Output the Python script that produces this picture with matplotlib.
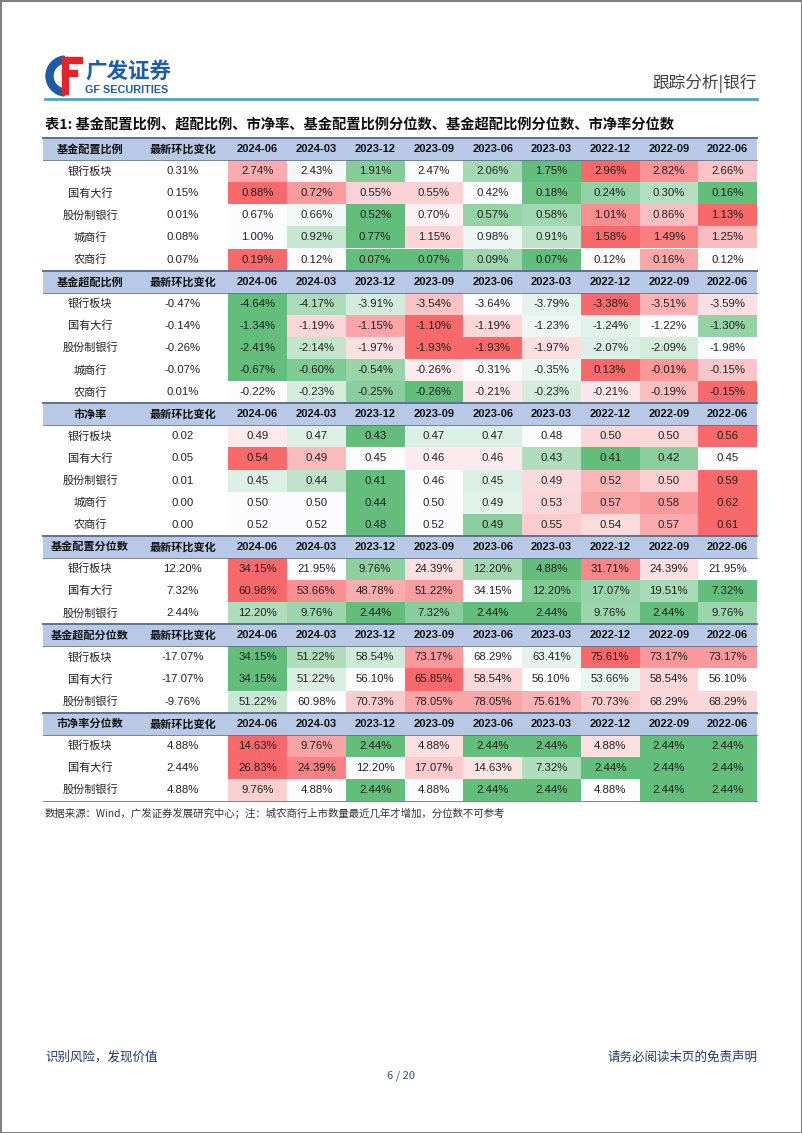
import numpy as np
import matplotlib
matplotlib.use('Agg')
import matplotlib.pyplot as plt
from matplotlib.patches import Rectangle, Wedge
from matplotlib.colors import LinearSegmentedColormap

# 数据
dates = ['2024-06', '2024-03', '2023-12', '2023-09', '2023-06', '2023-03', '2022-12', '2022-09', '2022-06']
banks5 = ['银行板块', '国有大行', '股份制银行', '城商行', '农商行']
banks3 = ['银行板块', '国有大行', '股份制银行']

alloc_change = [0.31, 0.15, 0.01, 0.08, 0.07]
alloc_vals = [[2.74, 2.43, 1.91, 2.47, 2.06, 1.75, 2.96, 2.82, 2.66],
              [0.88, 0.72, 0.55, 0.55, 0.42, 0.18, 0.24, 0.30, 0.16],
              [0.67, 0.66, 0.52, 0.70, 0.57, 0.58, 1.01, 0.86, 1.13],
              [1.00, 0.92, 0.77, 1.15, 0.98, 0.91, 1.58, 1.49, 1.25],
              [0.19, 0.12, 0.07, 0.07, 0.09, 0.07, 0.12, 0.16, 0.12]]

over_change = [-0.47, -0.14, -0.26, -0.07, 0.01]
over_vals = [[-4.64, -4.17, -3.91, -3.54, -3.64, -3.79, -3.38, -3.51, -3.59],
             [-1.34, -1.19, -1.15, -1.10, -1.19, -1.23, -1.24, -1.22, -1.30],
             [-2.41, -2.14, -1.97, -1.93, -1.93, -1.97, -2.07, -2.09, -1.98],
             [-0.67, -0.60, -0.54, -0.26, -0.31, -0.35, 0.13, -0.01, -0.15],
             [-0.22, -0.23, -0.25, -0.26, -0.21, -0.23, -0.21, -0.19, -0.15]]

pb_change = [0.02, 0.05, 0.01, 0.00, 0.00]
pb_vals = [[0.49, 0.47, 0.43, 0.47, 0.47, 0.48, 0.50, 0.50, 0.56],
           [0.54, 0.49, 0.45, 0.46, 0.46, 0.43, 0.41, 0.42, 0.45],
           [0.45, 0.44, 0.41, 0.46, 0.45, 0.49, 0.52, 0.50, 0.59],
           [0.50, 0.50, 0.44, 0.50, 0.49, 0.53, 0.57, 0.58, 0.62],
           [0.52, 0.52, 0.48, 0.52, 0.49, 0.55, 0.54, 0.57, 0.61]]

alloc_pct_change = [12.20, 7.32, 2.44]
alloc_pct_vals = [[34.15, 21.95, 9.76, 24.39, 12.20, 4.88, 31.71, 24.39, 21.95],
                  [60.98, 53.66, 48.78, 51.22, 34.15, 12.20, 17.07, 19.51, 7.32],
                  [12.20, 9.76, 2.44, 7.32, 2.44, 2.44, 9.76, 2.44, 9.76]]

over_pct_change = [-17.07, -17.07, -9.76]
over_pct_vals = [[34.15, 51.22, 58.54, 73.17, 68.29, 63.41, 75.61, 73.17, 73.17],
                 [34.15, 51.22, 56.10, 65.85, 58.54, 56.10, 53.66, 58.54, 56.10],
                 [51.22, 60.98, 70.73, 78.05, 78.05, 75.61, 70.73, 68.29, 68.29]]

pb_pct_change = [4.88, 2.44, 4.88]
pb_pct_vals = [[14.63, 9.76, 2.44, 4.88, 2.44, 2.44, 4.88, 2.44, 2.44],
               [26.83, 24.39, 12.20, 17.07, 14.63, 7.32, 2.44, 2.44, 2.44],
               [9.76, 4.88, 2.44, 4.88, 2.44, 2.44, 4.88, 2.44, 2.44]]

sections = [('基金配置比例', banks5, alloc_change, alloc_vals, '%'),
            ('基金超配比例', banks5, over_change, over_vals, '%'),
            ('市净率', banks5, pb_change, pb_vals, ''),
            ('基金配置分位数', banks3, alloc_pct_change, alloc_pct_vals, '%'),
            ('基金超配分位数', banks3, over_pct_change, over_pct_vals, '%'),
            ('市净率分位数', banks3, pb_pct_change, pb_pct_vals, '%')]

# 色阶 (低/中/高) 默认取每行最小值/中位数/最大值, 个别行按原表调整
scale_fix = {('基金配置分位数', '股份制银行'): (2.44, 22.0, 40.0),
             ('基金超配分位数', '股份制银行'): (30.0, 61.0, 90.0),
             ('市净率分位数', '股份制银行'): (2.44, 4.88, 21.0)}

cmap = LinearSegmentedColormap.from_list('gwr', ['#63BE7B', '#FCFCFF', '#F8696B'])


def cell_color(v, lo, mid, hi):
    if v < mid:
        t = 0.5 - 0.5 * (mid - v) / (mid - lo)
    elif v > mid:
        t = 0.5 + 0.5 * (v - mid) / (hi - mid)
    else:
        t = 0.0 if mid == lo else 0.5
    return cmap(float(np.clip(t, 0, 1)))


cjk = ['Noto Sans CJK SC', 'DejaVu Sans']
num = ['Liberation Sans', 'DejaVu Sans']

fig = plt.figure(figsize=(8.02, 11.33), dpi=100)
ax = fig.add_axes([0, 0, 1, 1])
ax.set_xlim(0, 802)
ax.set_ylim(1133, 0)
ax.axis('off')

# 页面边框
ax.add_patch(Rectangle((0.5, 0.5), 801, 1132, fill=False, ec='#7F7F7F', lw=1.5))

# 页眉 logo
ax.add_patch(Wedge((66, 76), 20, 95, 265, width=7, color='#1E5BAA'))
ax.add_patch(Rectangle((62, 57), 20, 6, color='#E3242B'))
ax.add_patch(Rectangle((62, 70), 15, 6, color='#E3242B'))
ax.add_patch(Rectangle((62, 57), 6, 37, color='#E3242B'))
ax.text(85, 71, '广发证券', family=cjk, fontsize=15.5, fontweight='bold', color='#1E5BAA',
        va='center', ha='left')
ax.text(85, 90, 'GF SECURITIES', family=num, fontsize=7.8, fontweight='bold', color='#1E5BAA',
        va='center', ha='left')
ax.text(757, 83, '跟踪分析|银行', family=cjk, fontsize=12, color='#404040', va='center', ha='right')
ax.plot([45, 757], [99, 99], color='#4BA3D3', lw=2)

# 标题
ax.text(45, 125, '表1: 基金配置比例、超配比例、市净率、基金配置比例分位数、基金超配比例分位数、市净率分位数',
        family=cjk, fontsize=10.3, fontweight='bold', color='#111111', va='center', ha='left')

# 表格
X0, X1 = 43, 757
xc0, xc1 = 137, 228.3
cw = (X1 - xc1) / len(dates)
Y0, RH = 138, 22.1
line_c = '#5F6F8C'

k = 0
for name, labels, change, vals, unit in sections:
    ytop = Y0 + k * RH
    ax.add_patch(Rectangle((X0, ytop), X1 - X0, RH, color='#B7C9E6', lw=0))
    ax.plot([X0, X1], [ytop, ytop], color=line_c, lw=1.4)
    ax.plot([X0, X1], [ytop + RH, ytop + RH], color=line_c, lw=0.6)
    yc = ytop + RH / 2
    ax.text((X0 + xc0) / 2, yc, name, family=cjk, fontsize=8, fontweight='bold',
            ha='center', va='center', color='#111111')
    ax.text((xc0 + xc1) / 2, yc, '最新环比变化', family=cjk, fontsize=8, fontweight='bold',
            ha='center', va='center', color='#111111')
    for j, d in enumerate(dates):
        ax.text(xc1 + cw * (j + 0.5), yc, d, family=num, fontsize=8, fontweight='bold',
                ha='center', va='center', color='#111111')
    k += 1
    for i, lab in enumerate(labels):
        ytop = Y0 + k * RH
        yc = ytop + RH / 2
        row = vals[i]
        lo, mid, hi = scale_fix.get((name, lab), (min(row), float(np.median(row)), max(row)))
        ax.text((X0 + xc0) / 2, yc, lab, family=cjk, fontsize=8, ha='center', va='center',
                color='#222222')
        ax.text((xc0 + xc1) / 2, yc, f'{change[i]:.2f}{unit}', family=num, fontsize=8.2,
                ha='center', va='center', color='#222222')
        for j, v in enumerate(row):
            x = xc1 + cw * j
            ax.add_patch(Rectangle((x, ytop), cw, RH, color=cell_color(v, lo, mid, hi), lw=0))
            ax.text(x + cw / 2, yc, f'{v:.2f}{unit}', family=num, fontsize=8.2,
                    ha='center', va='center', color='#222222')
        k += 1

ax.plot([X0, X1], [Y0 + k * RH, Y0 + k * RH], color=line_c, lw=0.6)

ax.text(45, Y0 + k * RH + 12, '数据来源：Wind，广发证券发展研究中心；注：城农商行上市数量最近几年才增加，分位数不可参考',
        family=cjk, fontsize=7.5, color='#333333', ha='left', va='center')

# 页脚
ax.text(45, 1057, '识别风险，发现价值', family=cjk, fontsize=9, color='#1F3864', ha='left', va='center')
ax.text(757, 1057, '请务必阅读末页的免责声明', family=cjk, fontsize=9, color='#1F3864', ha='right', va='center')
ax.text(401, 1076, '6 / 20', family=cjk, fontsize=8, color='#2F4F8F', ha='center', va='center')

fig.savefig('out.png', dpi=100)
